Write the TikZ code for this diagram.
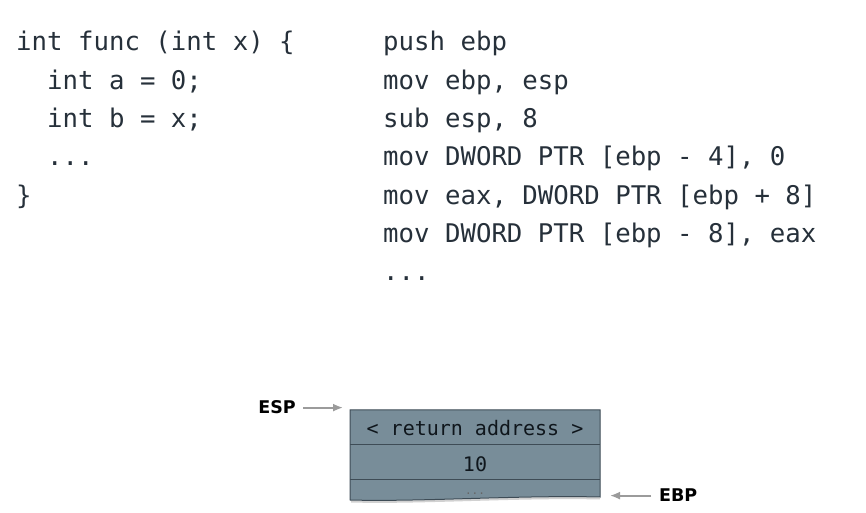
\documentclass[tikz,border=0pt]{standalone}
\usepackage{fontspec}
\setmonofont{DejaVu Sans Mono}
\newfontfamily\lblfont{DejaVu Sans}
\usetikzlibrary{arrows.meta}
\definecolor{codecol}{RGB}{38,48,58}
\definecolor{boxfill}{RGB}{120,141,153}
\definecolor{boxline}{RGB}{62,76,86}
\definecolor{celltext}{RGB}{15,22,28}
\definecolor{arrowgray}{RGB}{155,155,155}
\begin{document}
\begin{tikzpicture}[x=1pt,y=1pt,
  code/.style={anchor=base west, inner sep=0pt, font=\fontsize{25.7}{30}\ttfamily, text=codecol},
  celltxt/.style={anchor=base, inner sep=0pt, font=\fontsize{20}{24}\ttfamily, text=celltext},
  lbl/.style={inner sep=0pt, font=\fontsize{17.5}{20}\lblfont\bfseries, text=black},
  ptr/.style={draw=arrowgray, line width=1.8pt, -{Latex[length=10pt,width=8pt]}},
  rowline/.style={draw=boxline, line width=1pt}]
\useasboundingbox (0,0) rectangle (866,513);
\fill[white] (0,0) rectangle (866,513);

% C source
\node[code] (c1) at (16,462) {int func (int x) \{};
\node[code] (c2) at (47,423.7) {int a = 0;};
\node[code] (c3) at (47,385.4) {int b = x;};
\node[code] (c4) at (47,347.1) {...};
\node[code] (c5) at (16,308.8) {\}};

% assembly
\node[code] (a1) at (383,462) {push ebp};
\node[code] (a2) at (383,423.7) {mov ebp, esp};
\node[code] (a3) at (383,385.4) {sub esp, 8};
\node[code] (a4) at (383,347.1) {mov DWORD PTR [ebp - 4], 0};
\node[code] (a5) at (383,308.8) {mov eax, DWORD PTR [ebp + 8]};
\node[code] (a6) at (383,270.5) {mov DWORD PTR [ebp - 8], eax};
\node[code] (a7) at (383,232.2) {...};

% stack box
\draw[line width=2pt, black!18] (351,11.5) .. controls (420,9.5) and (520,16.5) .. (600,14.5);
\path[fill=boxfill, draw=boxline, line width=1pt]
  (350,103) -- (350,13) .. controls (420,11) and (520,18) .. (600,16) -- (600,103) -- cycle;
\draw[rowline] (350,68) -- (600,68);
\draw[rowline] (350,33) -- (600,33);
\coordinate (stacktl) at (343,105);
\coordinate (stackbr) at (610,16);

\node[celltxt] (ret) at (475,77) {< return address >};
\node[celltxt] (ten) at (475,41) {10};
\node[anchor=base, inner sep=0pt, font=\fontsize{11}{12}\ttfamily, text=black!60] (dots) at (475,18) {...};

% pointers
\node[lbl, anchor=base east] (esp) at (296,99) {ESP};
\node[lbl, anchor=base west] (ebp) at (659,11) {EBP};
\draw[ptr, shorten <=7pt] (esp.east) -- (esp.east -| stacktl);
\draw[ptr, shorten <=8pt] (ebp.west) -- (ebp.west -| stackbr);
\end{tikzpicture}
\end{document}
